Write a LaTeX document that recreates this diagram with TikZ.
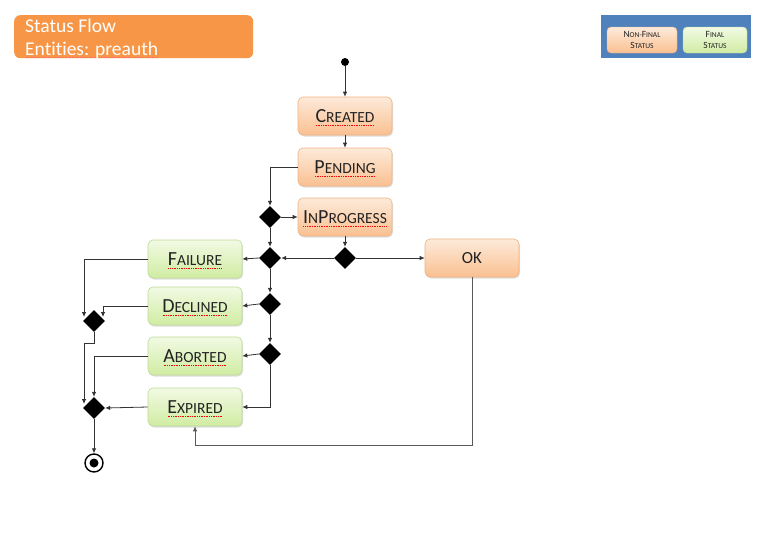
\documentclass[tikz,border=0pt]{standalone}
\usepackage{fontspec}
\setmainfont[Ligatures=NoCommon]{Carlito}
\usetikzlibrary{shapes.geometric,arrows.meta,shadows}
\definecolor{ttl}{RGB}{247,150,70}
\definecolor{legblue}{RGB}{79,129,189}
\definecolor{orTop}{RGB}{253,234,218}
\definecolor{orBot}{RGB}{250,192,145}
\definecolor{orLine}{RGB}{240,178,128}
\definecolor{grTop}{RGB}{241,250,228}
\definecolor{grBot}{RGB}{208,236,162}
\definecolor{grLine}{RGB}{190,218,150}
\definecolor{txt}{RGB}{35,35,35}
\newcommand\Bg[1]{{\fontsize{20}{22}\selectfont#1}}
\newcommand\Lg[1]{{\fontsize{9.5}{10}\selectfont#1}}
\newcommand\spl[2][red]{\setbox0\hbox{#2}\leavevmode\rlap{\textcolor{#1}{\raisebox{-3pt}[0pt][0pt]{\hbox to \wd0{\xleaders\hbox{\kern0.35pt\rule{1pt}{0.6pt}\kern0.35pt}\hfil}}}}\box0}
\tikzset{
  statebox/.style={rounded corners=5pt, minimum width=94pt, minimum height=38pt, inner sep=0pt,
    text=txt, font=\fontsize{15.5}{18}\selectfont,
    drop shadow={shadow xshift=1pt, shadow yshift=-1.5pt, opacity=0.25}},
  nonfinal/.style={statebox, top color=orTop, bottom color=orBot, draw=orLine, line width=0.6pt},
  final/.style={statebox, top color=grTop, bottom color=grBot, draw=grLine, line width=0.6pt},
  decis/.style={diamond, fill=black, minimum width=22pt, minimum height=22pt, inner sep=0pt},
  arr/.style={draw=black!80, line width=0.8pt, -{Latex[length=5pt,width=4.5pt]}},
  legbox/.style={rounded corners=4pt, minimum height=26pt, inner sep=0pt, align=center,
    text=txt, font=\fontsize{7.5}{10.5}\selectfont}
}
\begin{document}
\begin{tikzpicture}[x=1pt,y=-1pt]
\useasboundingbox[fill=white] (0,0) rectangle (768,536);

% title
\node[fill=ttl, rounded corners=6pt, minimum width=239pt, minimum height=43pt, anchor=north west, inner sep=0pt] (title) at (14,15) {};
\node[anchor=base west, inner sep=0pt, text=white, font=\fontsize{19.5}{23}\selectfont] (t1) at (25,32) {Status Flow};
\node[anchor=base west, inner sep=0pt, text=white, font=\fontsize{19.5}{23}\selectfont] (t2) at (25,55) {\spl[red!60!white]{Entities: preauth}};

% legend
\node[fill=legblue, minimum width=150pt, minimum height=43pt, anchor=north west, inner sep=0pt] (legend) at (601,15) {};
\node[legbox, minimum width=70pt, top color=orTop, bottom color=orBot, draw=orLine] (lnf) at (642,40) {\Lg{N}ON-\Lg{F}INAL\\\Lg{S}TATUS};
\node[legbox, minimum width=64pt, top color=grTop, bottom color=grBot, draw=grLine] (lf) at (715,40) {\Lg{F}INAL\\\Lg{S}TATUS};

% start
\node[circle, fill=black, minimum size=8pt, inner sep=0pt] (start) at (345,62) {};

% states
\node[nonfinal] (created) at (345,116) {\spl{\Bg{C}REATED}};
\node[nonfinal] (pending) at (345,167) {\spl{\Bg{P}ENDING}};
\node[nonfinal] (inprog) at (345,217) {\spl{\Bg{I}N\Bg{P}ROGRESS}};
\node[nonfinal, font=\fontsize{17}{19}\selectfont] (ok) at (472,258) {OK};
\node[final] (failure) at (195,259) {\spl{\Bg{F}AILURE}};
\node[final] (declined) at (195,306) {\spl{\Bg{D}ECLINED}};
\node[final] (aborted) at (195,356) {\spl{\Bg{A}BORTED}};
\node[final] (expired) at (195,407) {\spl{\Bg{E}XPIRED}};

% decisions
\node[decis] (d1) at (270,217) {};
\node[decis] (d2) at (270,258) {};
\node[decis] (d3) at (345,258) {};
\node[decis] (d4) at (270,304) {};
\node[decis] (d5) at (270,354) {};
\node[decis] (dA) at (94,321) {};
\node[decis] (dB) at (94,408) {};

% end
\node[circle, draw=black, line width=1.4pt, minimum size=18pt, inner sep=0pt] (end) at (94,463) {};
\fill (end.center) circle (4.5pt);

% helper coordinates
\coordinate (fa) at (84,317);
\coordinate (da) at (103,317);
\coordinate (j1) at (94,343);
\coordinate (fb) at (84,404);
\coordinate (okb) at (195,445);

% connectors
\draw[arr] (start) -- (created.north);
\draw[arr] (created.south) -- (pending.north);
\draw[arr] (pending.west) -| (d1.north);
\draw[arr] (d1.east) -- (inprog.west);
\draw[arr] (d1.south) -- (d2.north);
\draw[arr] (inprog.south) -- (d3.north);
\draw[arr] (d3.west) -- (d2.east);
\draw[arr] (d3.east) -- (ok.west);
\draw[arr] (d2.west) -- (failure.east);
\draw[arr] (d2.south) -- (d4.north);
\draw[arr] (d4.west) -- (declined.east);
\draw[arr] (d4.south) -- (d5.north);
\draw[arr] (d5.west) -- (aborted.east);
\draw[arr] (d5.south) |- (expired.east);
\draw[arr, draw=black!65] (ok.south) |- (okb) -- (expired.south);
\draw[arr] (failure.west) -| (fa);
\draw[arr] (declined.west) -| (da);
\draw[arr] (dA.south) -- (j1) -| (fb);
\draw[arr] (aborted.west) -| (dB.north);
\draw[arr] (expired.west) -- (dB.east);
\draw[arr] (dB.south) -- (end.north);
\end{tikzpicture}
\end{document}
